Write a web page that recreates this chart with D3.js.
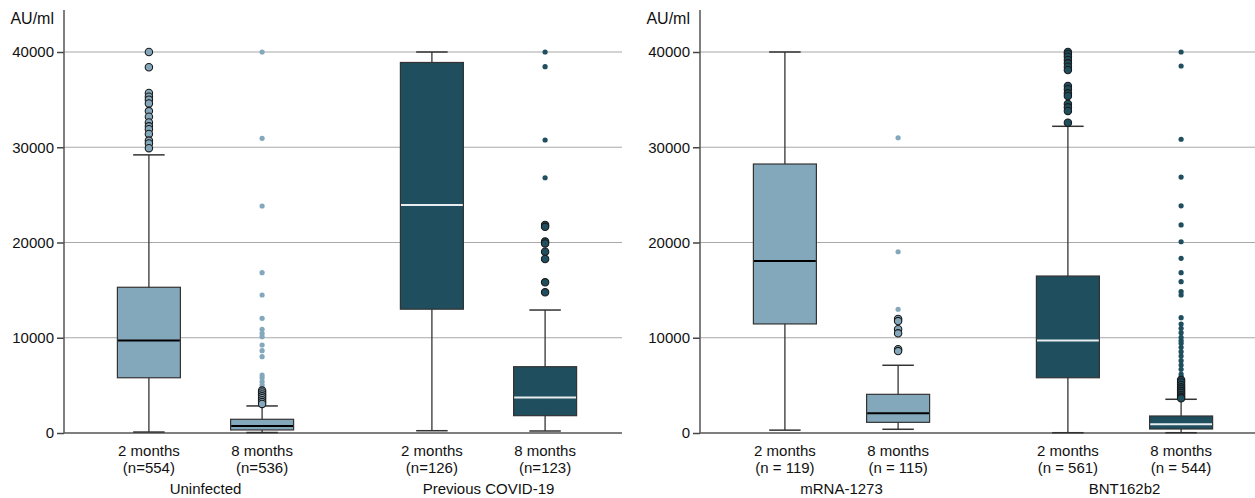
<!DOCTYPE html>
<html>
<head>
<meta charset="utf-8">
<script src="https://cdn.jsdelivr.net/npm/d3@7"></script>
<style>
  body { margin: 0; background: #fff; }
  text { font-family: "Liberation Sans", Arial, sans-serif; fill: #111; }
</style>
</head>
<body>
<div id="chart"></div>
<script>
// data (AU/ml)
const timepoints = ["2 months", "8 months"];
const yTicks = [0, 10000, 20000, 30000, 40000];

const leftGroups = ["Uninfected", "Previous COVID-19"];
const leftN = ["(n=554)", "(n=536)", "(n=126)", "(n=123)"];
// [lower whisker, q1, median, q3, upper whisker]
const leftStats = [
    [100, 5800, 9700, 15300, 29200],
    [50, 320, 740, 1440, 2840],
    [240, 13000, 23940, 38900, 40000],
    [210, 1820, 3740, 6960, 12910]
];
const leftMild = [
    [40000, 38400, 35700, 35300, 35000, 34600, 33800, 33200, 32600, 32200, 31900, 31400, 30700, 30400, 29900],
    [4450, 4250, 4050, 3850, 3650, 3450, 3250, 3050],
    [],
    [21840, 21650, 20100, 19900, 19030, 18270, 15820, 14770]
];
const leftExtreme = [
    [],
    [40000, 30940, 23830, 16830, 14490, 12040, 10890, 10460, 10110, 9240, 8640, 8010, 6090, 5810, 5390, 5040, 4750],
    [],
    [40000, 38460, 30760, 26800]
];

const rightGroups = ["mRNA-1273", "BNT162b2"];
const rightN = ["(n = 119)", "(n = 115)", "(n = 561)", "(n = 544)"];
const rightStats = [
    [300, 11450, 18060, 28240, 40000],
    [390, 1120, 2070, 4060, 7110],
    [30, 5800, 9700, 16480, 32200],
    [30, 420, 910, 1785, 3540]
];
const rightMild = [
    [],
    [11970, 11750, 10890, 10460, 8800, 8600],
    [40000, 39790, 39510, 39160, 38810, 38460, 38110, 36430, 36090, 35660, 35380, 34540, 34190, 33810, 32580],
    [5560, 5300, 5050, 4800, 4600, 4400, 4200, 4000, 3800, 3640]
];
const rightExtreme = [
    [],
    [31000, 19030, 12990],
    [],
    [40000, 38530, 30840, 26870, 23850, 21840, 20080, 18340, 16830, 15890, 14840, 14490, 12110, 11440,
     10990, 10530, 10050, 9690, 9420, 9000, 8540, 8080, 7590, 7140, 6690, 6190, 5910]
];

const colors = ["#84a8bb", "#1f4e5f"];
const medianColors = ["#000", "#e8eef0"];

const W = 1255, H = 498;
const svg = d3.select("#chart").append("svg")
    .attr("width", W)
    .attr("height", H);

const y = d3.scaleLinear().domain([0, 40000]).range([433, 52]);
const boxW = 63;

function drawPanel(x0, groups, nLabels, stats, mild, extreme) {
    const width = 558;
    const g = svg.append("g").attr("transform", "translate(" + x0 + ",0)");

    const outer = d3.scaleBand().domain(groups).range([0, 566]).padding(0);
    const inner = d3.scalePoint().domain(timepoints).range([0, outer.bandwidth()]).padding(0.75);

    // gridlines
    g.selectAll(".grid")
        .data(yTicks.filter(d => d > 0))
        .enter().append("line")
        .attr("x1", 0).attr("x2", width)
        .attr("y1", d => y(d)).attr("y2", d => y(d))
        .attr("stroke", "#a8a8a8").attr("stroke-width", 1.2);

    // y axis
    const axis = g.append("g").call(d3.axisLeft(y).tickValues(yTicks).tickSize(7).tickPadding(3).tickFormat(d3.format("d")));
    axis.select(".domain").remove();
    axis.selectAll(".tick line").attr("stroke", "#444").attr("stroke-width", 1.5);
    axis.selectAll(".tick text").attr("font-size", "15px").attr("fill", "#111");

    g.append("line").attr("x1", 0).attr("x2", 0).attr("y1", 10).attr("y2", y(0))
        .attr("stroke", "#555").attr("stroke-width", 1.5);
    g.append("line").attr("x1", 0).attr("x2", width).attr("y1", y(0)).attr("y2", y(0))
        .attr("stroke", "#555").attr("stroke-width", 1.5);

    g.append("text").attr("x", -10).attr("y", 24)
        .attr("text-anchor", "end").attr("font-size", "16px")
        .text("AU/ml");

    const boxes = [];
    groups.forEach((grp, gi) => {
        timepoints.forEach((tp, ti) => {
            const i = gi * 2 + ti;
            boxes.push({
                cx: outer(grp) + inner(tp), gi: gi, tp: tp, n: nLabels[i],
                s: stats[i], mild: mild[i], extreme: extreme[i]
            });
        });
    });

    const b = g.selectAll(".box").data(boxes).enter().append("g");

    // whiskers
    b.append("line")
        .attr("x1", d => d.cx).attr("x2", d => d.cx)
        .attr("y1", d => y(d.s[0])).attr("y2", d => y(d.s[4]))
        .attr("stroke", "#333").attr("stroke-width", 1.3);
    [0, 4].forEach(k => {
        b.append("line")
            .attr("x1", d => d.cx - boxW / 4).attr("x2", d => d.cx + boxW / 4)
            .attr("y1", d => y(d.s[k])).attr("y2", d => y(d.s[k]))
            .attr("stroke", "#333").attr("stroke-width", 1.5);
    });

    b.append("rect")
        .attr("x", d => d.cx - boxW / 2).attr("width", boxW)
        .attr("y", d => y(d.s[3])).attr("height", d => y(d.s[1]) - y(d.s[3]))
        .attr("fill", d => colors[d.gi])
        .attr("stroke", "#333").attr("stroke-width", 1.2);

    b.append("line")
        .attr("x1", d => d.cx - boxW / 2 + 0.6).attr("x2", d => d.cx + boxW / 2 - 0.6)
        .attr("y1", d => y(d.s[2])).attr("y2", d => y(d.s[2]))
        .attr("stroke", d => medianColors[d.gi]).attr("stroke-width", 2);

    // far outliers: small dots; mild outliers: outlined circles
    b.each(function (d) {
        d3.select(this).selectAll(".ext").data(d.extreme).enter().append("circle")
            .attr("cx", d.cx).attr("cy", v => y(v)).attr("r", 2.6)
            .attr("fill", colors[d.gi]);
        d3.select(this).selectAll(".mild").data(d.mild).enter().append("circle")
            .attr("cx", d.cx).attr("cy", v => y(v)).attr("r", 3.7)
            .attr("fill", colors[d.gi])
            .attr("stroke", "#1a1a1a").attr("stroke-width", 1.1);
    });

    // labels
    b.append("text").attr("x", d => d.cx).attr("y", 456)
        .attr("text-anchor", "middle").attr("font-size", "15px").text(d => d.tp);
    b.append("text").attr("x", d => d.cx).attr("y", 473)
        .attr("text-anchor", "middle").attr("font-size", "15px").text(d => d.n);

    g.selectAll(".grpLabel").data(groups).enter().append("text")
        .attr("x", d => outer(d) + outer.bandwidth() / 2).attr("y", 494)
        .attr("text-anchor", "middle").attr("font-size", "15px")
        .text(d => d);
}

drawPanel(64, leftGroups, leftN, leftStats, leftMild, leftExtreme);
drawPanel(700, rightGroups, rightN, rightStats, rightMild, rightExtreme);
</script>
</body>
</html>
